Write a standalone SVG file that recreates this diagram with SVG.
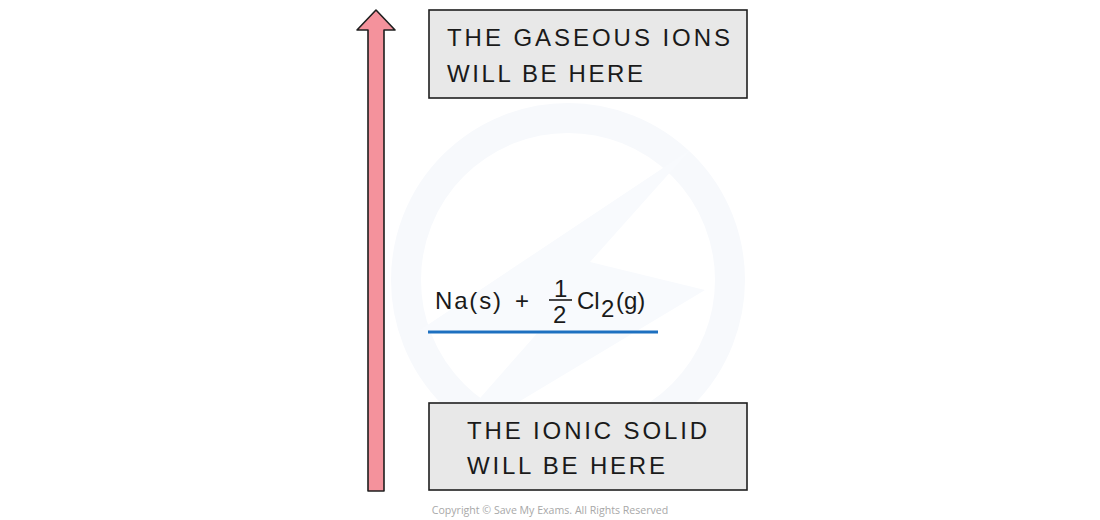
<svg xmlns="http://www.w3.org/2000/svg" width="1100" height="520" viewBox="0 0 1100 520">
<style>
.box{fill:#e8e8e8;stroke:#1f1f1f;stroke-width:1.6}
.lbl{font-family:"Liberation Sans",Arial,sans-serif;font-size:24px;fill:#1a1a1a}
.eq{font-family:"Liberation Sans",Arial,sans-serif;font-size:24px;fill:#1a1a1a}
.wm{fill:none;stroke:#f7f9fc;stroke-width:30}
</style>
<rect width="1100" height="520" fill="#ffffff"/>
<g id="watermark">
<circle class="wm" cx="568" cy="280" r="162"/>
<polygon points="420,330 690,150 590,262 705,290 430,455 540,330" fill="#f8fafd"/>
</g>
<g id="arrow">
<polygon points="368,491 368,30 357,30 376,10 395,30 384,30 384,491" fill="#f4929c" stroke="#1f1f1f" stroke-width="1.6" stroke-linejoin="round"/>
</g>
<g id="gaseous-ions">
<rect class="box" x="429" y="10" width="318" height="88"/>
<text class="lbl" x="447" y="46" textLength="283" lengthAdjust="spacing">THE GASEOUS IONS</text>
<text class="lbl" x="447" y="82" textLength="196" lengthAdjust="spacing">WILL BE HERE</text>
</g>
<g id="reactants">
<text class="eq" x="435" y="309" textLength="66" lengthAdjust="spacing">Na(s)</text>
<text class="eq" x="515" y="309">+</text>
<text class="eq" x="554" y="297" font-size="22">1</text>
<line x1="549" y1="300" x2="572" y2="300" stroke="#1a1a1a" stroke-width="1.6"/>
<text class="eq" x="553" y="323" font-size="22">2</text>
<text class="eq" x="577" y="309">Cl</text>
<text class="eq" x="601" y="317" font-size="15">2</text>
<text class="eq" x="616" y="309">(g)</text>
<line x1="428" y1="332" x2="658" y2="332" stroke="#1d70c0" stroke-width="3"/>
</g>
<g id="ionic-solid">
<rect class="box" x="429" y="403" width="318" height="87"/>
<text class="lbl" x="467" y="439" textLength="240" lengthAdjust="spacing">THE IONIC SOLID</text>
<text class="lbl" x="467" y="474" textLength="198" lengthAdjust="spacing">WILL BE HERE</text>
</g>
<g id="connectors"></g>
<text x="550" y="514" text-anchor="middle" font-family="'Open Sans','Liberation Sans',sans-serif" font-size="10.6" fill="#a8a8a8">Copyright © Save My Exams. All Rights Reserved</text>
</svg>
